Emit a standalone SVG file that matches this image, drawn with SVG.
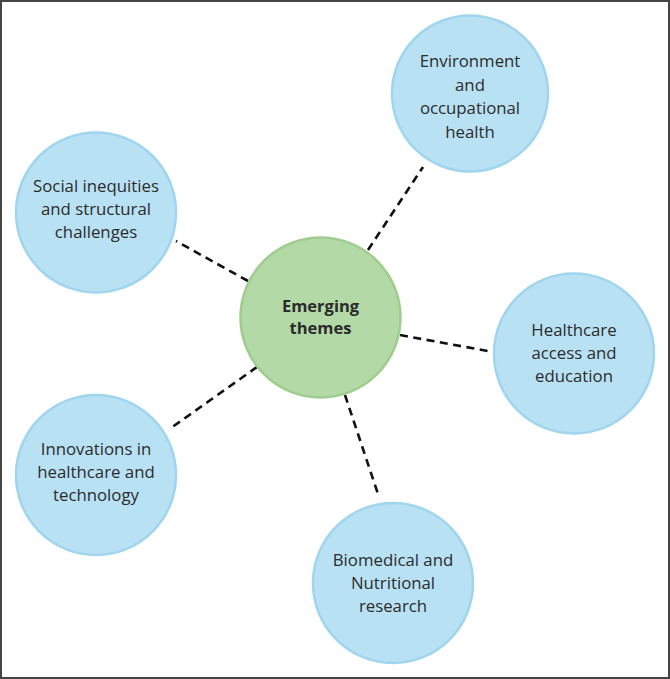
<svg xmlns="http://www.w3.org/2000/svg" width="670" height="679" viewBox="0 0 670 679">
<style>
.bg{fill:#ffffff;stroke:#454545;stroke-width:2}
.theme{fill:#b9e1f4;stroke:#a0d5ee;stroke-width:2.5}
.core{fill:#b3d9a6;stroke:#9fcd8e;stroke-width:2.5}
.lbl{font-family:"Open Sans","Liberation Sans",sans-serif;font-size:16.8px;fill:#2b2b2b;text-anchor:middle}
.lblb{font-family:"Open Sans","Liberation Sans",sans-serif;font-size:16.5px;font-weight:bold;fill:#2b2b2b;text-anchor:middle}
.conn line{stroke:#111;stroke-width:2.6;stroke-dasharray:8 5.5;fill:none}
</style>
<rect class="bg" x="1" y="1" width="668" height="677"/>
<g id="connectors" class="conn">
<line x1="368" y1="250" x2="423" y2="167"/>
<line x1="248" y1="281" x2="176" y2="241"/>
<line x1="400" y1="335" x2="493" y2="352"/>
<line x1="345" y1="395" x2="378" y2="494"/>
<line x1="257" y1="367" x2="171" y2="428"/>
</g>
<g id="center">
<circle class="core" cx="320.5" cy="317.5" r="80"/>
<text class="lblb" x="320.5" y="312">Emerging</text>
<text class="lblb" x="320.5" y="334">themes</text>
</g>
<g id="environment">
<circle class="theme" cx="470" cy="93.5" r="78"/>
<text class="lbl" x="470" y="67">Environment</text>
<text class="lbl" x="470" y="90.5">and</text>
<text class="lbl" x="470" y="114">occupational</text>
<text class="lbl" x="470" y="137.5">health</text>
</g>
<g id="social">
<circle class="theme" cx="96" cy="212.5" r="80"/>
<text class="lbl" x="96" y="192">Social inequities</text>
<text class="lbl" x="96" y="215">and structural</text>
<text class="lbl" x="96" y="238">challenges</text>
</g>
<g id="healthcare">
<circle class="theme" cx="574" cy="353.5" r="80"/>
<text class="lbl" x="574" y="336">Healthcare</text>
<text class="lbl" x="574" y="359">access and</text>
<text class="lbl" x="574" y="382">education</text>
</g>
<g id="innovations">
<circle class="theme" cx="96" cy="475" r="80"/>
<text class="lbl" x="96" y="455">Innovations in</text>
<text class="lbl" x="96" y="478">healthcare and</text>
<text class="lbl" x="96" y="501">technology</text>
</g>
<g id="biomedical">
<circle class="theme" cx="393" cy="583" r="80"/>
<text class="lbl" x="393" y="566">Biomedical and</text>
<text class="lbl" x="393" y="589">Nutritional</text>
<text class="lbl" x="393" y="612">research</text>
</g>
</svg>
